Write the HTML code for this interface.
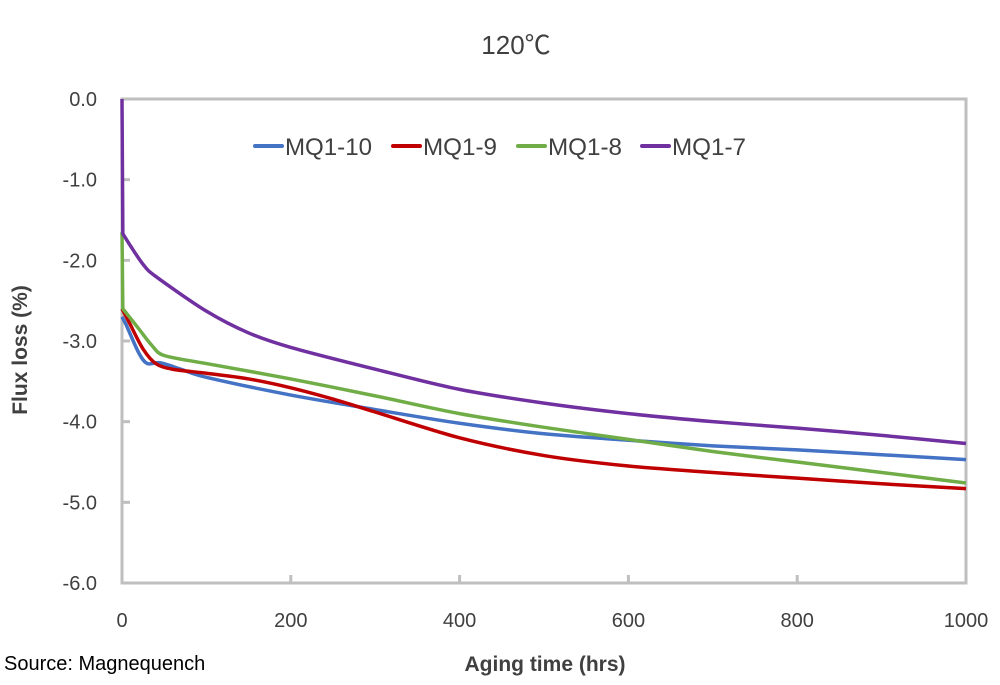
<!DOCTYPE html>
<html><head><meta charset="utf-8"><style>
body{margin:0;background:#fff;}
svg text{font-family:"Liberation Sans","Noto Sans CJK SC",sans-serif;fill:#404040;}
</style></head><body>
<svg width="1000" height="680" viewBox="0 0 1000 680">
<text x="516" y="54" font-size="26" text-anchor="middle">120℃</text>
<rect x="122" y="99" width="844" height="484" fill="none" stroke="#bfbfbf" stroke-width="3"/>
<g id="yticks"></g><g id="xticks"></g><g id="series"></g>
<text transform="translate(27,350) rotate(-90)" font-size="21" font-weight="bold" text-anchor="middle">Flux loss (%)</text>
<text x="545" y="671" font-size="21" font-weight="bold" text-anchor="middle">Aging time (hrs)</text>
<text x="4" y="670" font-size="20" style="fill:#000">Source: Magnequench</text>
<g id="legend"></g>
</svg>
<script>
const xTicks=[0,200,400,600,800,1000];
const yTicks=[0,-1,-2,-3,-4,-5,-6];
const seriesNames=["MQ1-10","MQ1-9","MQ1-8","MQ1-7"];
const blueX=[0,5,20,30,45,70,100,200,300,400,500,600,700,800,900,1000];
const blueY=[-2.7,-2.8,-3.15,-3.28,-3.27,-3.35,-3.45,-3.67,-3.85,-4.02,-4.15,-4.23,-4.3,-4.35,-4.41,-4.47];
const redX=[0,10,25,40,60,100,150,200,250,300,400,500,600,700,800,900,1000];
const redY=[-2.6,-2.8,-3.1,-3.28,-3.35,-3.4,-3.47,-3.58,-3.72,-3.88,-4.2,-4.42,-4.55,-4.63,-4.7,-4.77,-4.83];
const greenX=[0,1,20,35,50,100,200,300,400,500,600,700,800,900,1000];
const greenY=[-1.65,-2.6,-2.85,-3.05,-3.18,-3.28,-3.47,-3.68,-3.9,-4.07,-4.22,-4.37,-4.5,-4.63,-4.76];
const purpleX=[0,1,10,25,40,100,150,200,300,400,500,600,700,800,900,1000];
const purpleY=[0,-1.67,-1.82,-2.05,-2.2,-2.63,-2.9,-3.08,-3.35,-3.6,-3.77,-3.9,-4.0,-4.08,-4.17,-4.27];
const colors=["#4472c4","#c00000","#70ad47","#7030a0"];
const NS="http://www.w3.org/2000/svg";
const sx=v=>122+v*0.844, sy=v=>99-v*80.667;
function mk(t,a,p){const e=document.createElementNS(NS,t);for(const k in a)e.setAttribute(k,a[k]);p.appendChild(e);return e;}
const yg=document.getElementById('yticks');
yTicks.forEach(v=>{
 const t=mk('text',{x:97,y:sy(v)+7,'font-size':20,'text-anchor':'end'},yg);t.textContent=v.toFixed(1);
 
 
 const l=mk('line',{x1:122,x2:130,y1:sy(v),y2:sy(v),stroke:'#bfbfbf','stroke-width':3},yg);
 
 
});
const xg=document.getElementById('xticks');
xTicks.forEach(v=>{
 const t=mk('text',{x:sx(v),y:627,'font-size':20,'text-anchor':'middle'},xg);t.textContent=v;
 
 
 const l=mk('line',{x1:sx(v),x2:sx(v),y1:583,y2:575,stroke:'#bfbfbf','stroke-width':3},xg);
 
 
});
const data=[[blueX,blueY],[redX,redY],[greenX,greenY],[purpleX,purpleY]];
const sg=document.getElementById('series');
data.forEach((d,i)=>{
 const pts=d[0].map((x,j)=>[sx(x),sy(d[1][j])]);
 let p='M'+pts[0][0]+','+pts[0][1];
 for(let j=0;j<pts.length-1;j++){
  const p1=pts[j],p2=pts[j+1];
  if(j===0){p+=` L${p2[0]},${p2[1]}`;continue;}
  const p0=j===1?pts[1]:pts[j-1],p3=pts[Math.min(pts.length-1,j+2)];
  const t=0.15;
  p+=` C${p1[0]+(p2[0]-p0[0])*t},${p1[1]+(p2[1]-p0[1])*t} ${p2[0]-(p3[0]-p1[0])*t},${p2[1]-(p3[1]-p1[1])*t} ${p2[0]},${p2[1]}`;
 }
 const e=mk('path',{d:p,fill:'none',stroke:colors[i],'stroke-width':3.5,'stroke-linejoin':'round'},sg);
 
 
});
const lg=document.getElementById('legend');
const lx=[255,393,518,642];
const lw=[87,74,74,74];
seriesNames.forEach((n,i)=>{
 const l=mk('line',{x1:lx[i],x2:lx[i]+27,y1:146,y2:146,stroke:colors[i],'stroke-width':4,'stroke-linecap':'round'},lg);
 
 
 const t=mk('text',{x:lx[i]+30,y:155,'font-size':24,textLength:lw[i],lengthAdjust:'spacingAndGlyphs'},lg);t.textContent=n;
 
 
});
</script>
</body></html>
